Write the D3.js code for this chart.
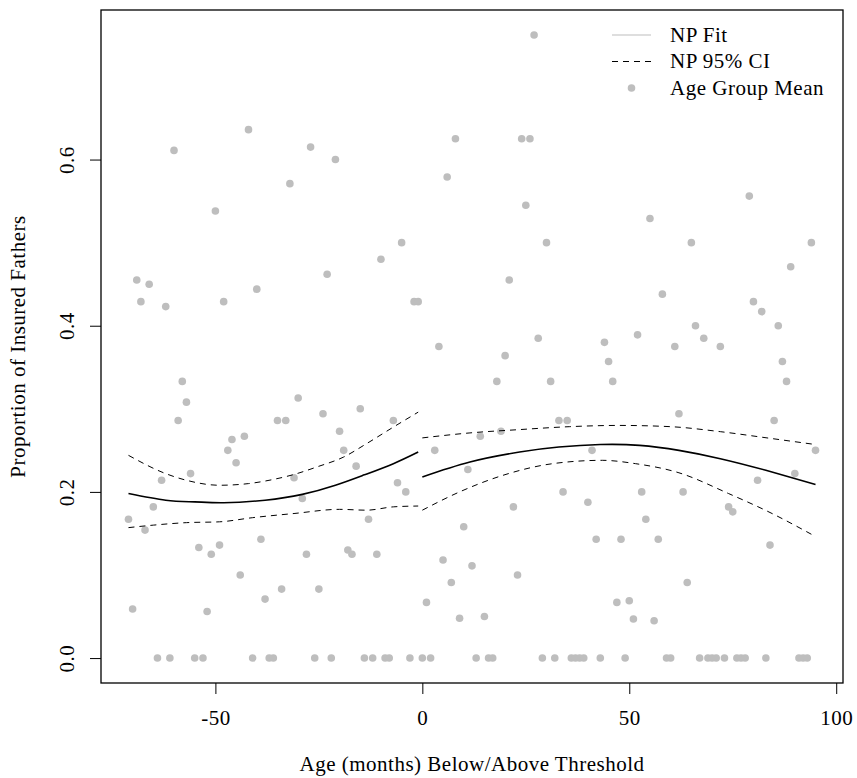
<!DOCTYPE html>
<html>
<head>
<meta charset="utf-8">
<script src="https://cdn.jsdelivr.net/npm/d3@7"></script>
<style>
  body { margin: 0; background: #fff; }
  text { font-family: "Liberation Serif", serif; fill: #000; letter-spacing: 0.5px; }
</style>
</head>
<body>
<div id="wrapper"></div>
<script>
/*global d3 */

// age in months relative to the threshold, and the mean for each age group
const ages = [
  -71, -70, -69, -68, -67, -66, -65, -64, -63, -62, -61, -60, -59, -58, -57, -56, -55, -54, -53, -52,
  -51, -50, -49, -48, -47, -46, -45, -44, -43, -42, -41, -40, -39, -38, -37, -36, -35, -34, -33, -32,
  -31, -30, -29, -28, -27, -26, -25, -24, -23, -22, -21, -20, -19, -18, -17, -16, -15, -14, -13, -12,
  -11, -10, -9, -8, -7, -6, -5, -4, -3, -2, -1,
  0, 1, 2, 3, 4, 5, 6, 7, 8, 9, 10, 11, 12, 13, 14, 15, 16, 17, 18, 19,
  20, 21, 22, 23, 24, 25, 26, 27, 28, 29, 30, 31, 32, 33, 34, 35, 36, 37, 38, 39,
  40, 41, 42, 43, 44, 45, 46, 47, 48, 49, 50, 51, 52, 53, 54, 55, 56, 57, 58, 59,
  60, 61, 62, 63, 64, 65, 66, 67, 68, 69, 70, 71, 72, 73, 74, 75, 76, 77, 78, 79,
  80, 81, 82, 83, 84, 85, 86, 87, 88, 89, 90, 91, 92, 93, 94, 95
]
const groupMeans = [
  0.167, 0.059, 0.455, 0.429, 0.154, 0.45, 0.182, 0, 0.214, 0.423, 0, 0.611, 0.286, 0.333, 0.308, 0.222, 0, 0.133, 0, 0.056,
  0.125, 0.538, 0.136, 0.429, 0.25, 0.263, 0.235, 0.1, 0.267, 0.636, 0, 0.444, 0.143, 0.071, 0, 0, 0.286, 0.083, 0.286, 0.571,
  0.217, 0.313, 0.192, 0.125, 0.615, 0, 0.083, 0.294, 0.462, 0, 0.6, 0.273, 0.25, 0.13, 0.125, 0.231, 0.3, 0, 0.167, 0,
  0.125, 0.48, 0, 0, 0.286, 0.211, 0.5, 0.2, 0, 0.429, 0.429,
  0, 0.067, 0, 0.25, 0.375, 0.118, 0.579, 0.091, 0.625, 0.048, 0.158, 0.227, 0.111, 0, 0.267, 0.05, 0, 0, 0.333, 0.273,
  0.364, 0.455, 0.182, 0.1, 0.625, 0.545, 0.625, 0.75, 0.385, 0, 0.5, 0.333, 0, 0.286, 0.2, 0.286, 0, 0, 0, 0,
  0.1875, 0.25, 0.143, 0, 0.38, 0.357, 0.333, 0.067, 0.143, 0, 0.069, 0.047, 0.389, 0.2, 0.167, 0.529, 0.045, 0.143, 0.438, 0,
  0, 0.375, 0.294, 0.2, 0.091, 0.5, 0.4, 0, 0.385, 0, 0, 0, 0.375, 0, 0.182, 0.176, 0, 0, 0, 0.556,
  0.429, 0.214, 0.417, 0, 0.136, 0.286, 0.4, 0.357, 0.333, 0.471, 0.222, 0, 0, 0, 0.5, 0.25
]

const fitLeftX = [-71, -62, -55, -48, -38, -29, -21, -14, -7, -1]
const fitLeftY = [0.198, 0.190, 0.188, 0.187, 0.190, 0.197, 0.208, 0.2205, 0.234, 0.248]
const ciUpLeftX = [-71, -62, -57, -49, -42, -36, -31, -25.5, -19, -13.5, -7, -1]
const ciUpLeftY = [0.244, 0.222, 0.214, 0.208, 0.210, 0.215, 0.221, 0.230, 0.242, 0.258, 0.278, 0.296]
const ciLoLeftX = [-71, -65, -57, -49, -41, -31, -20, -13.5, -7, -1]
const ciLoLeftY = [0.157, 0.160, 0.163, 0.164, 0.169, 0.174, 0.179, 0.178, 0.182, 0.183]

const fitRightX = [0, 11.5, 23.5, 33, 43, 52.5, 62, 72, 83, 95]
const fitRightY = [0.218, 0.236, 0.248, 0.254, 0.257, 0.256, 0.250, 0.240, 0.226, 0.209]
const ciUpRightX = [0, 11.5, 23.5, 35.5, 47.5, 60, 72, 84, 95]
const ciUpRightY = [0.265, 0.271, 0.275, 0.2785, 0.280, 0.2785, 0.2725, 0.2645, 0.257]
const ciLoRightX = [0, 9, 19.5, 31.5, 43.5, 51.5, 62, 74, 84.5, 94]
const ciLoRightY = [0.178, 0.200, 0.220, 0.234, 0.238, 0.234, 0.223, 0.198, 0.174, 0.149]

const xTicks = [-50, 0, 50, 100]
const yTicks = [0, 0.2, 0.4, 0.6]
const legendLabels = ["NP Fit", "NP 95% CI", "Age Group Mean"]

async function draw() {

    //****************************1. Access Data

    const dataset = ages.map((a, i) => ({ age: a, mean: groupMeans[i] }))
    const zip = (xs, ys) => xs.map((x, i) => ({ age: x, mean: ys[i] }))

    const curves = [
        { pts: zip(fitLeftX, fitLeftY), dashed: false },
        { pts: zip(fitRightX, fitRightY), dashed: false },
        { pts: zip(ciUpLeftX, ciUpLeftY), dashed: true },
        { pts: zip(ciLoLeftX, ciLoLeftY), dashed: true },
        { pts: zip(ciUpRightX, ciUpRightY), dashed: true },
        { pts: zip(ciLoRightX, ciLoRightY), dashed: true }
    ]

    const xAccessor = d => d.age
    const yAccessor = d => d.mean

    //****************************2. Draw Dimensions

    let dimensions = {
        width: 857,
        height: 778,
        margin: {
            top: 10,
            right: 14,
            bottom: 95,
            left: 101
        }
    }

    dimensions.boundedWidth = dimensions.width
        - dimensions.margin.left
        - dimensions.margin.right

    dimensions.boundedHeight = dimensions.height
        - dimensions.margin.top
        - dimensions.margin.bottom

    //*************************3. Draw Canvas

    const wrapper = d3.select("#wrapper")
        .append("svg")
        .attr("width", dimensions.width)
        .attr("height", dimensions.height)

    const bounds = wrapper.append("g")
        .attr("transform", `translate(${dimensions.margin.left}, ${dimensions.margin.top})`)

    //***********************4. Create Scales (R style 4% padding)

    const xExtent = d3.extent(dataset, xAccessor)
    const xPad = (xExtent[1] - xExtent[0]) * 0.04
    const xScale = d3.scaleLinear()
        .domain([xExtent[0] - xPad, xExtent[1] + xPad])
        .range([0, dimensions.boundedWidth])

    const yExtent = d3.extent(dataset, yAccessor)
    const yPad = (yExtent[1] - yExtent[0]) * 0.04
    const yScale = d3.scaleLinear()
        .domain([yExtent[0] - yPad, yExtent[1] + yPad])
        .range([dimensions.boundedHeight, 0])

    //***************************5. Draw Data

    bounds.append("g")
        .selectAll("circle")
        .data(dataset)
        .join("circle")
        .attr("cx", d => xScale(xAccessor(d)))
        .attr("cy", d => yScale(yAccessor(d)))
        .attr("r", 3.8)
        .attr("fill", "#bebebe")

    const fitLine = d3.line()
        .x(d => xScale(xAccessor(d)))
        .y(d => yScale(yAccessor(d)))
        .curve(d3.curveNatural)

    const ciLine = d3.line()
        .x(d => xScale(xAccessor(d)))
        .y(d => yScale(yAccessor(d)))
        .curve(d3.curveMonotoneX)

    bounds.append("g")
        .selectAll("path")
        .data(curves)
        .join("path")
        .attr("d", d => d.dashed ? ciLine(d.pts) : fitLine(d.pts))
        .attr("fill", "none")
        .attr("stroke", "black")
        .attr("stroke-width", d => d.dashed ? 1 : 1.6)
        .attr("stroke-dasharray", d => d.dashed ? "6,5" : null)

    //***************************6. Draw Peripherals

    bounds.append("rect")
        .attr("width", dimensions.boundedWidth)
        .attr("height", dimensions.boundedHeight)
        .attr("fill", "none")
        .attr("stroke", "black")
        .attr("stroke-width", 1.3)

    const xAxisGenerator = d3.axisBottom(xScale)
        .tickValues(xTicks)
        .tickSize(11)
        .tickPadding(16)
        .tickFormat(d3.format("d"))

    const xAxis = bounds.append("g")
        .attr("transform", `translate(0, ${dimensions.boundedHeight})`)
        .call(xAxisGenerator)
    xAxis.select(".domain").remove()
    xAxis.selectAll(".tick text")
        .attr("font-size", 21)
        .attr("font-family", "Liberation Serif")
        .attr("fill", "black")
        .text(d => d < 0 ? "-" + Math.abs(d) : d)

    const yAxisGenerator = d3.axisLeft(yScale)
        .tickValues(yTicks)
        .tickSize(11)
        .tickFormat(d3.format(".1f"))

    const yAxis = bounds.append("g")
        .call(yAxisGenerator)
    yAxis.select(".domain").remove()
    yAxis.selectAll(".tick text")
        .attr("font-size", 21)
        .attr("font-family", "Liberation Serif")
        .attr("fill", "black")
        .attr("x", null)
        .attr("dy", null)
        .attr("text-anchor", "middle")
        .attr("transform", "translate(-27, 0) rotate(-90)")

    xAxis.append("text")
        .attr("x", dimensions.boundedWidth / 2)
        .attr("y", 88)
        .attr("text-anchor", "middle")
        .attr("font-size", 21)
        .attr("fill", "black")
        .text("Age (months) Below/Above Threshold")

    bounds.append("text")
        .attr("transform", `translate(-76, ${dimensions.boundedHeight / 2}) rotate(-90)`)
        .attr("text-anchor", "middle")
        .attr("font-size", 21)
        .text("Proportion of Insured Fathers")

    //----------------Legend

    const legend = wrapper.append("g")
        .attr("transform", "translate(612, 35)")

    const rows = legend.selectAll("g")
        .data(legendLabels)
        .join("g")
        .attr("transform", (d, i) => `translate(0, ${i * 26.5})`)

    rows.filter((d, i) => i === 0).append("line")
        .attr("x1", 0).attr("x2", 39)
        .attr("stroke", "#bebebe")
        .attr("stroke-width", 1.2)
    rows.filter((d, i) => i === 1).append("line")
        .attr("x1", 0).attr("x2", 39)
        .attr("stroke", "black")
        .attr("stroke-width", 1)
        .attr("stroke-dasharray", "6,5")
    rows.filter((d, i) => i === 2).append("circle")
        .attr("cx", 19.5)
        .attr("r", 3.8)
        .attr("fill", "#bebebe")

    rows.append("text")
        .attr("x", 58)
        .attr("dy", "0.33em")
        .attr("font-size", 21)
        .text(d => d)

}
draw()
</script>
</body>
</html>
